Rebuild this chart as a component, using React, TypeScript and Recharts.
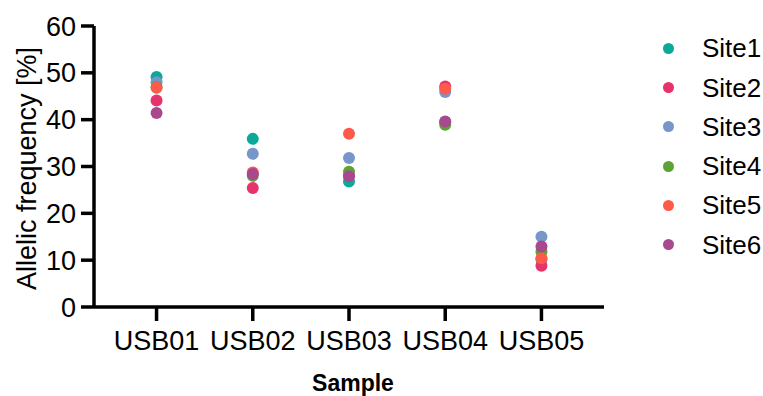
import React from 'react';
import { ScatterChart, Scatter, XAxis, YAxis, Label } from 'recharts';

const samples = ['USB01', 'USB02', 'USB03', 'USB04', 'USB05'];
const site1 = [49.1, 35.9, 26.8, 39.5, 10.2];
const site2 = [44.1, 25.4, 28.0, 47.1, 8.8];
const site3 = [48.0, 32.7, 31.8, 45.9, 15.0];
const site4 = [47.0, 28.0, 28.9, 38.9, 11.8];
const site5 = [46.8, 28.7, 37.0, 46.6, 10.4];
const site6 = [41.4, 28.4, 27.9, 39.6, 12.9];
const yTicks = [0, 10, 20, 30, 40, 50, 60];

const sites = [
  { name: 'Site1', values: site1, color: '#0aa99a' },
  { name: 'Site2', values: site2, color: '#e6336b' },
  { name: 'Site3', values: site3, color: '#7796c9' },
  { name: 'Site4', values: site4, color: '#5ba431' },
  { name: 'Site5', values: site5, color: '#fd5a4b' },
  { name: 'Site6', values: site6, color: '#a8488e' },
];

const FONT = '"Liberation Sans", Arial, sans-serif';

const toPoints = (values: number[]) => values.map((v, i) => ({ x: i + 1, y: v }));

const Dot = (color: string) => (props: any) => (
  <circle cx={props.cx} cy={props.cy} r={6} fill={color} />
);

export default function App() {
  return (
    <div style={{ position: 'absolute', left: 0, top: 0, width: 763, height: 396, background: '#fff', fontFamily: FONT }}>
      <ScatterChart width={763} height={396} margin={{ top: 26, right: 159, bottom: 0, left: 0 }}>
        <XAxis
          type="number"
          dataKey="x"
          domain={[0.35, 5.65]}
          ticks={[1, 2, 3, 4, 5]}
          interval={0}
          tickFormatter={(v: number) => samples[v - 1]}
          height={89}
          axisLine={{ stroke: '#000', strokeWidth: 3.5 }}
          tickLine={{ stroke: '#000', strokeWidth: 3.5 }}
          tickSize={14}
          tickMargin={10}
          tick={{ fill: '#000', fontSize: 27, fontFamily: FONT }}
        >
          <Label
            content={({ viewBox }: any) => (
              <text
                x={viewBox.x + viewBox.width / 2 + 4}
                y={viewBox.y + 84}
                textAnchor="middle"
                fontSize={23}
                fontWeight="bold"
                fontFamily={FONT}
                fill="#000"
              >
                Sample
              </text>
            )}
          />
        </XAxis>
        <YAxis
          type="number"
          dataKey="y"
          domain={[0, 60]}
          ticks={yTicks}
          interval={0}
          width={94}
          axisLine={{ stroke: '#000', strokeWidth: 3.5 }}
          tickLine={{ stroke: '#000', strokeWidth: 3.5 }}
          tickSize={13}
          tickMargin={5}
          tick={{ fill: '#000', fontSize: 27, fontFamily: FONT }}
        >
          <Label
            content={({ viewBox }: any) => {
              const cx = viewBox.x + 27;
              const cy = viewBox.y + viewBox.height / 2 + 2;
              return (
                <text
                  x={cx}
                  y={cy}
                  transform={`rotate(-90 ${cx} ${cy})`}
                  textAnchor="middle"
                  dominantBaseline="central"
                  fontSize={27}
                  fontFamily={FONT}
                  fill="#000"
                >
                  Allelic frequency [%]
                </text>
              );
            }}
          />
        </YAxis>
        {sites.map((s) => (
          <Scatter
            key={s.name}
            name={s.name}
            data={toPoints(s.values)}
            fill={s.color}
            shape={Dot(s.color)}
            isAnimationActive={false}
          />
        ))}
      </ScatterChart>
      <div style={{ position: 'absolute', left: 655, top: 28.6 }}>
        {sites.map((s) => (
          <div key={s.name} style={{ height: 39.3, display: 'flex', alignItems: 'center' }}>
            <span
              style={{
                display: 'inline-block',
                width: 11,
                height: 11,
                borderRadius: '50%',
                background: s.color,
                marginLeft: 7.5,
                marginRight: 28.5,
              }}
            />
            <span style={{ fontSize: 26, color: '#000', lineHeight: 1 }}>{s.name}</span>
          </div>
        ))}
      </div>
    </div>
  );
}
